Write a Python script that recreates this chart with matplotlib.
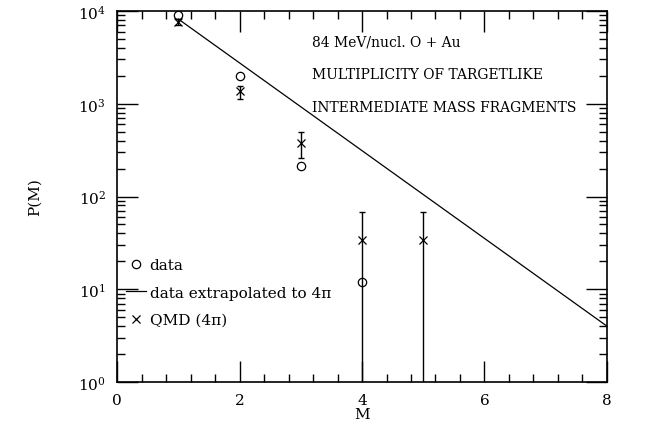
import numpy as np
import matplotlib
matplotlib.use("Agg")
import matplotlib.pyplot as plt
from matplotlib.ticker import MultipleLocator, LogLocator, NullFormatter

plt.rcParams['font.family'] = ['DejaVu Serif']
plt.rcParams['mathtext.fontset'] = 'dejavuserif'

# measured data (open circles)
data_m = [1, 2, 3, 4]
data_p = [9100, 2000, 215, 12]

# QMD (4pi) calculation with error bars
qmd_m = [1, 2, 3, 4, 5]
qmd_p = [7600, 1370, 378, 34, 34]
qmd_lo = [7000, 1120, 260, 0.01, 0.01]
qmd_hi = [8100, 1550, 490, 68, 68]

# data extrapolated to 4pi (straight line on log scale)
line_m = [1, 8]
line_p = [8200, 4.0]

fig = plt.figure(figsize=(6.48, 4.27), dpi=100)
ax = fig.add_axes([0.1806, 0.1030, 0.7561, 0.8689])

qmd_p_arr = np.array(qmd_p)
yerr = [qmd_p_arr - np.array(qmd_lo), np.array(qmd_hi) - qmd_p_arr]
ax.errorbar(qmd_m, qmd_p, yerr=yerr, fmt='none', ecolor='black',
            elinewidth=1.0, capsize=2.5, capthick=1.0)
ax.plot(data_m, data_p, 'o', mfc='none', mec='black', ms=6, mew=0.9, label='data')
ax.plot(line_m, line_p, '-', color='black', lw=0.9, label='data extrapolated to 4π')
ax.plot(qmd_m, qmd_p, 'x', color='black', ms=6, mew=0.9, label='QMD (4π)')

ax.set_yscale('log')
ax.set_xlim(0, 8)
ax.set_ylim(1, 1e4)

ax.xaxis.set_major_locator(MultipleLocator(2))
ax.xaxis.set_minor_locator(MultipleLocator(0.4))
ax.yaxis.set_major_locator(LogLocator(base=10, numticks=10))
ax.yaxis.set_minor_locator(LogLocator(base=10, subs=np.arange(2, 10), numticks=20))
ax.yaxis.set_minor_formatter(NullFormatter())
ax.tick_params(which='both', direction='in', top=True, right=True,
               labelsize=11, width=1.0)
ax.tick_params(which='major', length=15, pad=8)
ax.tick_params(which='minor', length=6)
for sp in ax.spines.values():
    sp.set_linewidth(1.2)

ax.set_xlabel('M', fontsize=11, labelpad=0)
ax.set_ylabel('P(M)', fontsize=11, labelpad=26)

ax.text(0.398, 0.919, '84 MeV/nucl. O + Au', transform=ax.transAxes,
        fontsize=10, va='center')
ax.text(0.398, 0.829, 'MULTIPLICITY OF TARGETLIKE', transform=ax.transAxes,
        fontsize=10, va='center')
ax.text(0.398, 0.741, 'INTERMEDIATE MASS FRAGMENTS', transform=ax.transAxes,
        fontsize=10, va='center')

ax.legend(loc='upper left', bbox_to_anchor=(0.018, 0.334), frameon=False,
          fontsize=11, handlelength=1.3, handletextpad=0.25, labelspacing=0.88,
          borderpad=0, borderaxespad=0, numpoints=1)

fig.savefig('out.png', dpi=100)
